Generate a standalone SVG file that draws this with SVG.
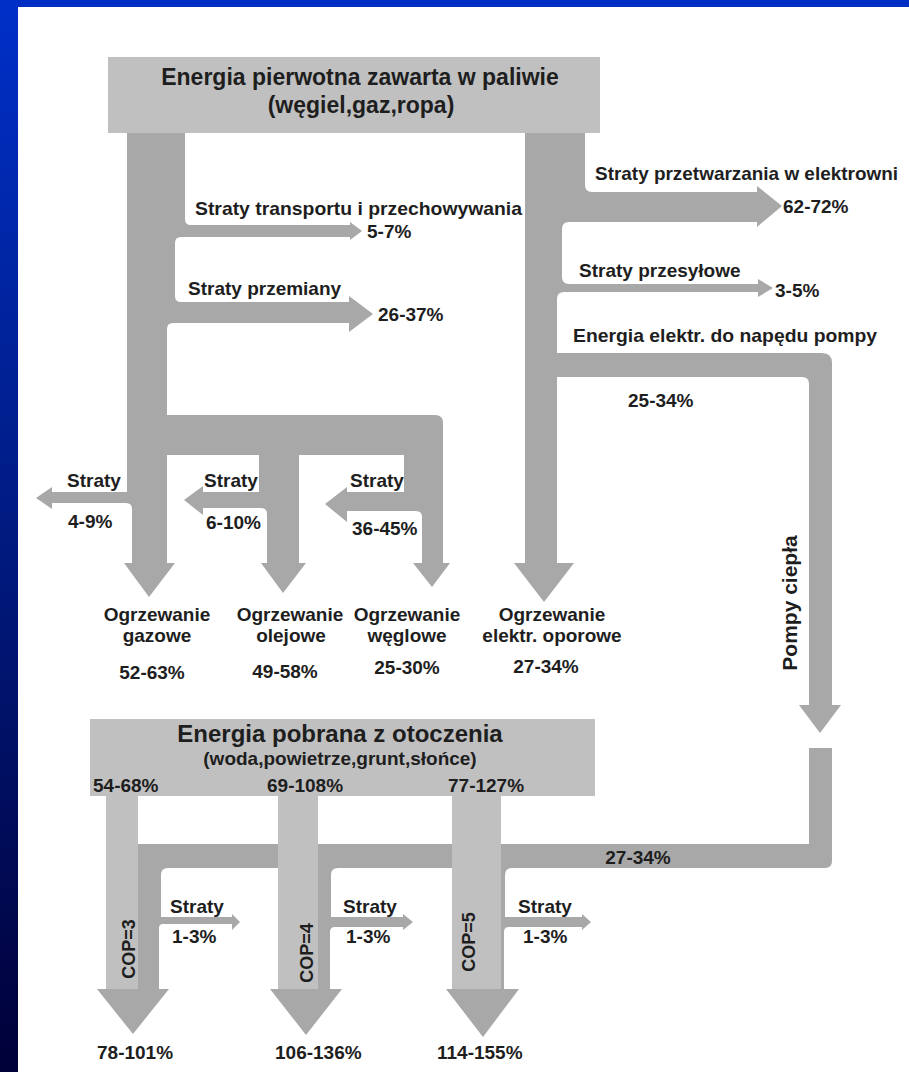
<svg xmlns="http://www.w3.org/2000/svg" width="909" height="1072" viewBox="0 0 909 1072">
  <defs>
    <linearGradient id="side" x1="0" y1="0" x2="0" y2="1">
      <stop offset="0" stop-color="#0030c8"/>
      <stop offset="0.5" stop-color="#001a80"/>
      <stop offset="1" stop-color="#000038"/>
    </linearGradient>
    <style>
      .flow { fill: #a8a8a8; }
      .box { fill: #c0c0c0; }
      .src { fill: #c0c0c0; }
      text { font-family: "Liberation Sans", Arial, sans-serif; font-weight: bold; fill: #1e1e1e; }
      .lbl { font-size: 19px; }
      .mid { text-anchor: middle; }
      .title { font-size: 23px; }
      .cop { font-size: 18px; }
    </style>
  </defs>

  <rect x="0" y="0" width="909" height="1072" fill="#ffffff"/>
  <rect x="0" y="0" width="909" height="7" fill="#002ec4"/>
  <rect x="0" y="0" width="18" height="1072" fill="url(#side)"/>

  <g id="connectors">
    <!-- fossil fuel tree -->
    <path class="flow" d="M127,133 H185 V219 Q185,225 191,225 H350 V222 L362,231 L350,240 V237 H181 Q175,237 175,243 V296 Q175,302 181,302 H349 V296 L373,314 L349,332 V323 H173 Q167,323 167,329 V415 H435 Q443,415 443,423 V563 H450 L432,587 L413,563 H422 V517 Q422,511 416,511 H347 V522 L325,504 L347,487 V492 H404 V455 H299 V563 H306 L283,593 L261,563 H267 V514 Q267,508 261,508 H203 V515 L184,500 L203,486 V492 H259 V455 H167 V563 H175 L149,597 L124,563 H132 V509 Q132,503 126,503 H52 V509 L36,498 L52,487 V492 H127 Z"/>
    <!-- electricity tree -->
    <path class="flow" d="M525,133 H585 V185 Q585,192 592,192 H757 V186 L782,206 L757,227 V222 H569 Q562,222 562,229 V277 Q562,284 569,284 H758 V279 L773,288 L758,297 V292 H564 Q557,292 557,299 V353 H822 Q832,353 832,363 V705 H841 L820,733 L799,705 H809 V384 Q809,377 802,377 H557 V563 H574 L544,602 L514,563 H525 Z"/>
    <!-- heat pump tree -->
    <path class="flow" d="M809,748 H832 V861 Q832,868 825,868 H512 Q505,868 505,875 V917 H582 V914 L591,922 L582,930 V927 H509 Q504,927 504,932 V989 H519 L483,1037 L446,989 H452 V868 H338 Q331,868 331,875 V917 H403 V914 L413,922 L403,930 V927 H335 Q330,927 330,932 V989 H342 L306,1035 L270,989 H278 V868 H168 Q161,868 161,875 V917 H232 V914 L240,922 L232,930 V924 H163 Q159,924 159,928 V989 H169 L133,1034 L97,989 H106 V844 H809 Z"/>
    <!-- ambient energy columns -->
    <rect class="src" x="106" y="796" width="32" height="193"/>
    <rect class="src" x="278" y="796" width="40" height="193"/>
    <rect class="src" x="452" y="796" width="49" height="193"/>
  </g>

  <g id="node-primary">
    <rect class="box" x="108" y="57" width="492" height="76"/>
    <text class="title mid" x="360" y="85">Energia pierwotna zawarta w paliwie</text>
    <text class="title mid" x="361" y="113">(węgiel,gaz,ropa)</text>
  </g>

  <g id="node-ambient">
    <rect class="box" x="90" y="719" width="505" height="77"/>
    <text class="mid" x="340" y="742" style="font-size:24px">Energia pobrana z otoczenia</text>
    <text class="lbl mid" x="340" y="765">(woda,powietrze,grunt,słońce)</text>
    <text class="lbl" x="93" y="792">54-68%</text>
    <text class="lbl" x="267" y="792">69-108%</text>
    <text class="lbl" x="448" y="792">77-127%</text>
  </g>

  <g id="node-transport-loss">
    <text class="lbl" x="195" y="215" textLength="327" lengthAdjust="spacingAndGlyphs">Straty transportu i przechowywania</text>
    <text class="lbl" x="367" y="238">5-7%</text>
  </g>
  <g id="node-conversion-loss">
    <text class="lbl" x="188" y="295">Straty przemiany</text>
    <text class="lbl" x="378" y="321">26-37%</text>
  </g>
  <g id="node-plant-loss">
    <text class="lbl" x="595" y="180" textLength="303" lengthAdjust="spacingAndGlyphs">Straty przetwarzania w elektrowni</text>
    <text class="lbl" x="783" y="213">62-72%</text>
  </g>
  <g id="node-grid-loss">
    <text class="lbl" x="579" y="277">Straty przesyłowe</text>
    <text class="lbl" x="775" y="297">3-5%</text>
  </g>
  <g id="node-pump-drive">
    <text class="lbl" x="573" y="342" textLength="304" lengthAdjust="spacingAndGlyphs">Energia elektr. do napędu pompy</text>
    <text class="lbl" x="628" y="407">25-34%</text>
  </g>

  <g id="node-gas-loss">
    <text class="lbl" x="67" y="487">Straty</text>
    <text class="lbl" x="68" y="528">4-9%</text>
  </g>
  <g id="node-oil-loss">
    <text class="lbl" x="204" y="487">Straty</text>
    <text class="lbl" x="206" y="529">6-10%</text>
  </g>
  <g id="node-coal-loss">
    <text class="lbl" x="350" y="487">Straty</text>
    <text class="lbl" x="352" y="535">36-45%</text>
  </g>

  <g id="node-gas">
    <text class="lbl mid" x="157" y="621">Ogrzewanie</text>
    <text class="lbl mid" x="157" y="642">gazowe</text>
    <text class="lbl mid" x="152" y="679">52-63%</text>
  </g>
  <g id="node-oil">
    <text class="lbl mid" x="290" y="621">Ogrzewanie</text>
    <text class="lbl mid" x="291" y="642">olejowe</text>
    <text class="lbl mid" x="285" y="678">49-58%</text>
  </g>
  <g id="node-coal">
    <text class="lbl mid" x="407" y="621">Ogrzewanie</text>
    <text class="lbl mid" x="407" y="642">węglowe</text>
    <text class="lbl mid" x="407" y="674">25-30%</text>
  </g>
  <g id="node-resistive">
    <text class="lbl mid" x="552" y="621">Ogrzewanie</text>
    <text class="lbl mid" x="552" y="642">elektr. oporowe</text>
    <text class="lbl mid" x="546" y="673">27-34%</text>
  </g>

  <g id="node-heat-pumps">
    <text class="mid" transform="translate(797,603) rotate(-90)" style="font-size:21px">Pompy ciepła</text>
    <text class="lbl mid" x="638" y="864">27-34%</text>
  </g>

  <g id="node-cop3">
    <text class="cop mid" transform="translate(135,949) rotate(-90)">COP=3</text>
    <text class="lbl" x="170" y="913">Straty</text>
    <text class="lbl" x="172" y="943">1-3%</text>
    <text class="lbl" x="97" y="1059">78-101%</text>
  </g>
  <g id="node-cop4">
    <text class="cop mid" transform="translate(313,953) rotate(-90)">COP=4</text>
    <text class="lbl" x="343" y="913">Straty</text>
    <text class="lbl" x="346" y="943">1-3%</text>
    <text class="lbl" x="275" y="1059">106-136%</text>
  </g>
  <g id="node-cop5">
    <text class="cop mid" transform="translate(475,942) rotate(-90)">COP=5</text>
    <text class="lbl" x="518" y="913">Straty</text>
    <text class="lbl" x="523" y="943">1-3%</text>
    <text class="lbl" x="437" y="1059">114-155%</text>
  </g>
</svg>
